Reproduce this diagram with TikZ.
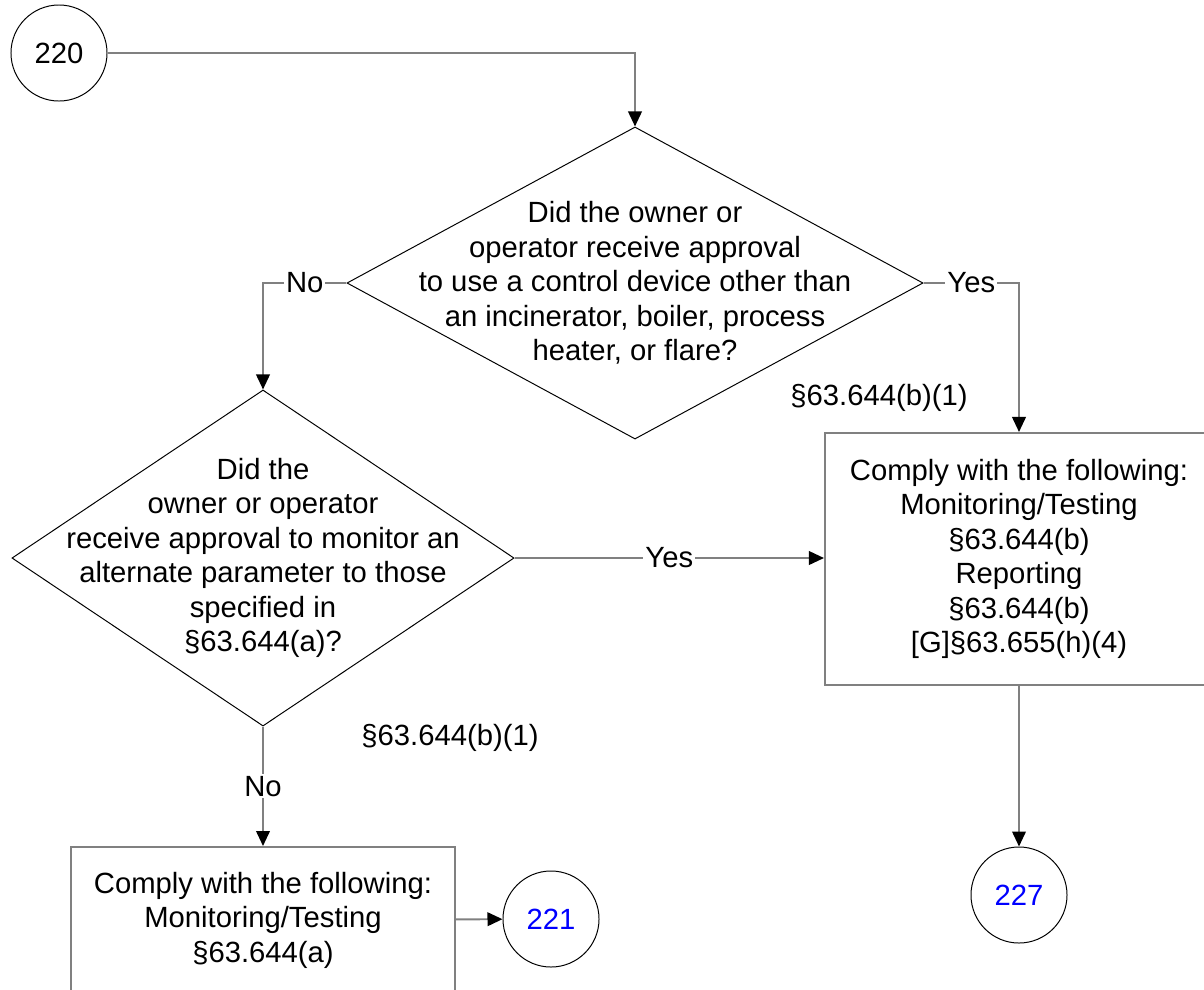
\documentclass[tikz,border=0pt]{standalone}
\usepackage{fontspec}
\setmainfont{Liberation Sans}
\usepackage{tikz}
\usetikzlibrary{positioning,arrows.meta,shapes,shapes.geometric,calc}

\begin{document}
\begin{tikzpicture}[
  x=0.025cm, y=-0.025cm,
  every node/.style={font=\fontsize{20.8}{24.5}\selectfont},
  decision/.style={draw=black,line width=0.7pt,diamond,inner sep=0pt},
  qtext/.style={align=center,inner sep=0pt},
  action/.style={draw=gray,line width=1.4pt,rectangle,align=center,inner sep=0pt},
  connector/.style={draw=black,circle,line width=0.7pt,minimum size=2.4cm,inner sep=0pt},
  flow/.style={draw=gray,line width=1.4pt,-{Triangle[length=0.375cm,width=0.34cm,color=black]}},
  answer/.style={fill=white,inner sep=0.05cm},
  ref/.style={inner sep=0pt}
]
\useasboundingbox (0,0) rectangle (1204,989);

\node[connector] (c220) at (59,53) {220};

\node[decision,minimum width=14.4cm,minimum height=7.8cm] (q1) at (635,283) {};
\node[qtext] (q1text) at (q1) {Did the owner or\\operator receive approval\\to use a control device other than\\an incinerator, boiler, process\\heater, or flare?};

\node[decision,minimum width=12.55cm,minimum height=8.4cm] (q2) at (263,558) {};
\node[qtext] (q2text) at (q2) {Did the\\owner or operator\\receive approval to monitor an\\alternate parameter to those\\specified in\\§63.644(a)?};

\node[action,minimum width=9.7cm,minimum height=6.3cm] (comply1) at (1019,559)
  {Comply with the following:\\Monitoring/Testing\\§63.644(b)\\Reporting\\§63.644(b)\\{[G]}§63.655(h)(4)};
\node[action,minimum width=9.6cm,minimum height=3.65cm] (comply2) at (263,920)
  {Comply with the following:\\Monitoring/Testing\\§63.644(a)};

\node[connector,text=blue] (c227) at (1019,895) {227};
\node[connector,text=blue] (c221) at (551,919) {221};

\node[ref] (ref1) at (879,398) {§63.644(b)(1)};
\node[ref] (ref2) at (450,738) {§63.644(b)(1)};

\draw[flow] (c220) -| (q1);
\draw[flow] (q1.west) -| node[answer,pos=0.25] {No} (q2);
\draw[flow] (q1.east) -| node[answer,pos=0.25] {Yes} (comply1);
\draw[flow] (q2.east) -- node[answer] {Yes} (q2.east -| comply1.west);
\draw[flow] (q2.south) -- node[answer] {No} (comply2);
\draw[flow] (comply1) -- (c227);
\draw[flow] (comply2) -- (c221);
\end{tikzpicture}
\end{document}
